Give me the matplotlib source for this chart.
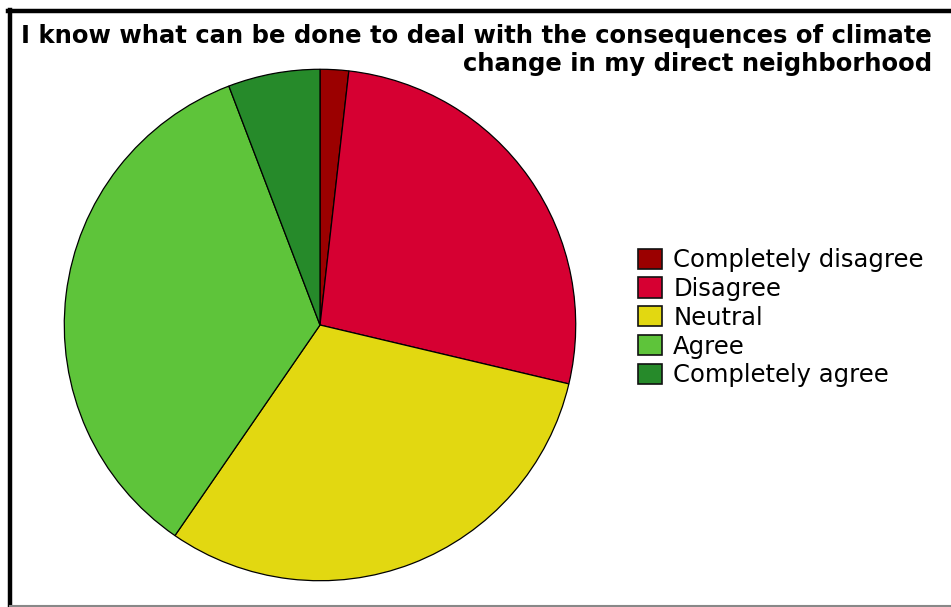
import matplotlib
matplotlib.use('Agg')
import matplotlib.pyplot as plt
from matplotlib.patches import Patch
from matplotlib.lines import Line2D

labels = ['Completely disagree', 'Disagree', 'Neutral', 'Agree', 'Completely agree']
values = [1.8, 26.9, 30.9, 34.6, 5.8]
colors = ['#9B0000', '#D60032', '#E2D811', '#5EC43A', '#268A2A']

W, H = 951, 607
fig = plt.figure(figsize=(W / 100, H / 100), dpi=100)

# frame: thick black on top and left, thin grey at the bottom
fig.add_artist(Line2D([10 / W, 10 / W], [0, 1 - 10 / H], color='black', lw=3.2, transform=fig.transFigure))
fig.add_artist(Line2D([8 / W, 1], [1 - 10.5 / H, 1 - 10.5 / H], color='black', lw=3.2, transform=fig.transFigure))
fig.add_artist(Line2D([10 / W, 1], [1.5 / H, 1.5 / H], color='#888888', lw=1.5, transform=fig.transFigure))

ax = fig.add_axes([63 / W, (H - 582) / H, 514 / W, 514 / H])
ax.pie(values, colors=colors, startangle=90, counterclock=False,
       wedgeprops=dict(edgecolor='black', linewidth=0.9))
ax.set_xlim(-1.005, 1.005)
ax.set_ylim(-1.005, 1.005)
ax.set_aspect('equal')

fig.text(932 / W, 1 - 50 / H, 'I know what can be done to deal with the consequences of climate\nchange in my direct neighborhood',
         ha='right', va='center', fontsize=17.5, fontweight='bold', linespacing=1.25)

handles = [Patch(facecolor=c, edgecolor='#111111', linewidth=1.2) for c in colors]
fig.legend(handles, labels, loc='upper left', bbox_to_anchor=(638 / W, 1 - 248 / H),
           frameon=False, fontsize=17.5, handlelength=1.0, handleheight=0.9,
           handletextpad=0.45, labelspacing=0.2, borderpad=0, borderaxespad=0)

fig.savefig('out.png', dpi=100)
